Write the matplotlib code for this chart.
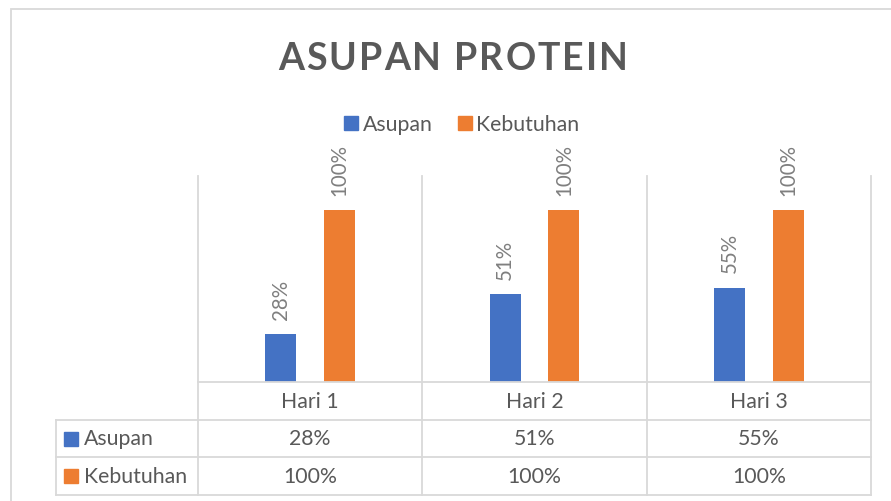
import matplotlib
matplotlib.use("Agg")
import matplotlib.pyplot as plt
from matplotlib.patches import Rectangle
from matplotlib.lines import Line2D
from matplotlib.font_manager import FontProperties

# ---- data ----
categories = ["Hari 1", "Hari 2", "Hari 3"]
series_names = ["Asupan", "Kebutuhan"]
asupan = [0.28, 0.51, 0.55]
kebutuhan = [1.00, 1.00, 1.00]
title = "ASUPAN PROTEIN"

# ---- style ----
W, H = 891, 502
DPI = 100
BLUE = "#4472C4"
ORANGE = "#ED7D31"
TXT = "#595959"
LBL = "#7F7F7F"
GRID = "#D9D9D9"
FONT = "Lato"
plt.rcParams["font.family"] = [FONT, "DejaVu Sans"]

fig = plt.figure(figsize=(W / DPI, H / DPI), dpi=DPI)
fig.patch.set_facecolor("white")

def fx(px):
    return px / W

def fy(py):
    return 1 - py / H

# outer chart border (extends beyond right/bottom edges)
fig.add_artist(Rectangle((fx(11), -0.2), 1.3, fy(10) + 0.2, transform=fig.transFigure,
                         fill=False, edgecolor=GRID, linewidth=1.3))

# plot area
pl, pr, pt, pb = 198, 871, 177, 383
ax = fig.add_axes([fx(pl), fy(pb), fx(pr - pl), (pb - pt) / H])
ax.set_xlim(-0.5, len(categories) - 0.5)
ax.set_ylim(0, 1.2)
ax.axis("off")

n = len(categories)
xs = list(range(n))
bw = 0.138
off = 0.131
b1 = ax.bar([x - off for x in xs], asupan, width=bw, color=BLUE, zorder=3)
b2 = ax.bar([x + off for x in xs], kebutuhan, width=bw, color=ORANGE, zorder=3)

for bars, vals in ((b1, asupan), (b2, kebutuhan)):
    for rect, v in zip(bars, vals):
        ax.annotate(f"{v:.0%}", (rect.get_x() + rect.get_width() / 2, v),
                    xytext=(0, 11), textcoords="offset points",
                    rotation=90, ha="center", va="bottom",
                    fontsize=14.8, color=LBL, annotation_clip=False)

# vertical category separators in plot area
for b in [i - 0.5 for i in range(n + 1)]:
    ax.plot([b, b], [0, 1.2], color=GRID, lw=1.3, zorder=1, clip_on=False)

# data table axes
tl, tb = 56, 496
ppc = (pr - pl) / n
x0 = -0.5 - (pl - tl) / ppc
axt = fig.add_axes([fx(tl), fy(tb), fx(pr - tl), (tb - pb) / H])
axt.set_xlim(x0, n - 0.5)
axt.set_ylim(3, 0)
axt.axis("off")

lk = dict(color=GRID, lw=1.3, clip_on=False, solid_capstyle="projecting")
axt.plot([-0.5, n - 0.5], [0, 0], **lk)
axt.plot([x0, n - 0.5], [1, 1], **lk)
axt.plot([x0, n - 0.5], [2, 2], **lk)
axt.plot([x0, n - 0.5], [3, 3], **lk)
axt.plot([x0, x0], [1, 3], **lk)
for b in [i - 0.5 for i in range(n + 1)]:
    axt.plot([b, b], [0, 3], **lk)

TFS = 15.3
for i, c in enumerate(categories):
    axt.text(i, 0.5, c, ha="center", va="center", fontsize=TFS, color=TXT)
rows = [asupan, kebutuhan]
colors = [BLUE, ORANGE]
for r, (name, vals, col) in enumerate(zip(series_names, rows, colors), start=1):
    axt.plot([x0 + (71 - tl) / ppc], [r + 0.5], marker="s", ms=10.2, color=col,
             linestyle="none", clip_on=False)
    axt.text(x0 + (84 - tl) / ppc, r + 0.5, name, ha="left", va="center",
             fontsize=TFS, color=TXT)
    for i, v in enumerate(vals):
        axt.text(i, r + 0.5, f"{v:.0%}", ha="center", va="center",
                 fontsize=TFS, color=TXT)

# title with letter spacing
renderer = fig.canvas.get_renderer()
tprop = FontProperties(family=FONT, weight="bold", size=27)
widths = [renderer.get_text_width_height_descent(ch, tprop, ismath=False)[0]
          for ch in title]
target_w = 350
spacing = (target_w - sum(widths)) / (len(title) - 1)
xpos = 453 - target_w / 2
for ch, w in zip(title, widths):
    fig.text(fx(xpos), fy(59), ch, ha="left", va="center", fontproperties=tprop,
             color=TXT)
    xpos += w + spacing

# legend
handles = [Line2D([], [], marker="s", ms=9.5, color=c, linestyle="none") for c in colors]
fig.legend(handles, series_names, loc="center", bbox_to_anchor=(fx(460), fy(125)),
           ncol=2, frameon=False, fontsize=TFS, labelcolor=TXT,
           handletextpad=0.05, columnspacing=1.0, handlelength=1.0)

fig.savefig("out.png", dpi=DPI, facecolor="white")
